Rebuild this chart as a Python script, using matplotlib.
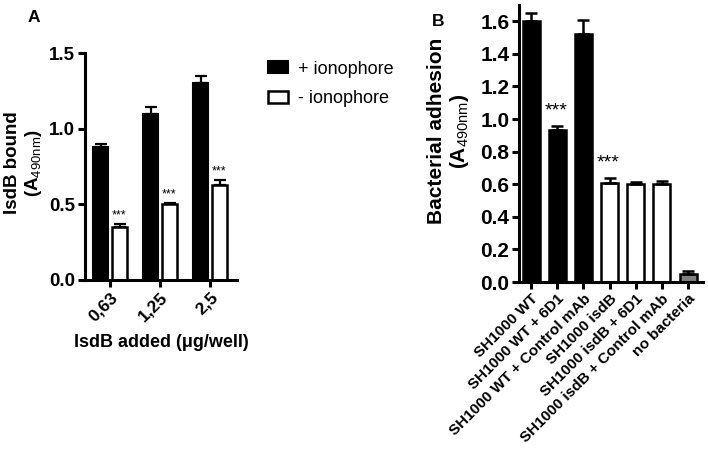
import numpy as np
import matplotlib.pyplot as plt

plt.rcParams["font.family"] = ["Liberation Sans", "DejaVu Sans"]
plt.rcParams["mathtext.fontset"] = "custom"
plt.rcParams["mathtext.rm"] = "Liberation Sans"
plt.rcParams["mathtext.bf"] = "Liberation Sans:bold"

# Panel A data
doses = ["0,63", "1,25", "2,5"]
plus_iono = [0.88, 1.10, 1.30]
plus_iono_err = [0.02, 0.04, 0.05]
minus_iono = [0.35, 0.50, 0.63]
minus_iono_err = [0.02, 0.01, 0.03]

# Panel B data
strains = ["SH1000 WT", "SH1000 WT + 6D1", "SH1000 WT + Control mAb",
           "SH1000 isdB", "SH1000 isdB + 6D1", "SH1000 isdB + Control mAb",
           "no bacteria"]
adhesion = [1.60, 0.93, 1.52, 0.61, 0.60, 0.60, 0.05]
adhesion_err = [0.05, 0.03, 0.09, 0.03, 0.015, 0.02, 0.015]
bar_colors = ["black", "black", "black", "white", "white", "white", "#808080"]
stars_b = ["", "***", "", "***", "", "", ""]

W, H = 708, 449
fig = plt.figure(figsize=(W / 100, H / 100), dpi=100)


def px_axes(left, top, right, bottom):
    return fig.add_axes([left / W, 1 - bottom / H, (right - left) / W, (bottom - top) / H])


def style(ax, lw=2.2):
    for side in ["top", "right"]:
        ax.spines[side].set_visible(False)
    for side in ["left", "bottom"]:
        ax.spines[side].set_linewidth(lw)
    ax.tick_params(width=lw, length=5, direction="out", pad=2)


# ---- Panel A ----
axA = px_axes(85, 53, 237, 280)
x = np.arange(len(doses))
off, w = 0.19, 0.3
err_kw = dict(capsize=4, capthick=1.6, elinewidth=1.6, ecolor="black")
bA1 = axA.bar(x - off, plus_iono, w, color="black", edgecolor="black", linewidth=1.5,
              yerr=[np.zeros(3), plus_iono_err], error_kw=err_kw, label="+ ionophore")
bA2 = axA.bar(x + off, minus_iono, w, color="white", edgecolor="black", linewidth=1.8,
              yerr=[np.zeros(3), minus_iono_err], error_kw=err_kw, label="- ionophore")
for xi, v, e in zip(x + off, minus_iono, minus_iono_err):
    axA.text(xi, v + e + 0.015, "***", ha="center", va="bottom", fontsize=9)
axA.set_xlim(-0.5, 2.54)
axA.set_ylim(0, 1.5)
axA.set_yticks([0, 0.5, 1.0, 1.5])
axA.set_yticklabels(["0.0", "0.5", "1.0", "1.5"], fontsize=13.5, fontweight="bold")
axA.set_xticks(x)
axA.set_xticklabels(doses, rotation=45, ha="right", rotation_mode="anchor",
                    fontsize=12.5, fontweight="bold")
axA.set_ylabel("IsdB bound\n(A$_{\\mathrm{490nm}}$)", fontsize=13.5, fontweight="bold",
               linespacing=1.1)
axA.yaxis.set_label_coords(-0.27, 0.515)
axA.set_xlabel("IsdB added (\u03bcg/well)", fontsize=13, fontweight="bold", labelpad=7)
style(axA)
axA.legend(handles=[bA1, bA2], loc="upper left", bbox_to_anchor=(255 / W, 1 - 48 / H),
           bbox_transform=fig.transFigure, frameon=False, fontsize=13,
           handlelength=1.15, handleheight=0.65, handletextpad=0.55,
           labelspacing=0.7, borderpad=0.2)
fig.text(28 / W, 1 - 22 / H, "A", fontsize=12.5, fontweight="bold")

# ---- Panel B ----
axB = px_axes(519, 5, 703, 282)
xb = np.arange(len(strains))
axB.bar(xb, adhesion, 0.65, color=bar_colors, edgecolor="black", linewidth=1.8,
        yerr=[np.zeros(len(xb)), adhesion_err],
        error_kw=dict(capsize=4, capthick=1.8, elinewidth=1.8, ecolor="black"))
for xi, v, e, s in zip(xb, adhesion, adhesion_err, stars_b):
    if s:
        axB.text(xi - 0.05, v + e + 0.04, s, ha="center", va="bottom", fontsize=14)
axB.set_xlim(-0.46, 6.57)
axB.set_ylim(0, 1.7)
yt = np.arange(0, 1.61, 0.2)
axB.set_yticks(yt)
axB.set_yticklabels([f"{v:.1f}" for v in yt], fontsize=15, fontweight="bold")
axB.set_xticks(xb)
axB.set_xticklabels(strains, rotation=45, ha="right", rotation_mode="anchor",
                    fontsize=11, fontweight="bold")
axB.set_ylabel("Bacterial adhesion\n(A$_{\\mathrm{490nm}}$)", fontsize=15,
               fontweight="bold", linespacing=1.1)
axB.yaxis.set_label_coords(-0.26, 0.545)
style(axB)
fig.text(432 / W, 1 - 26 / H, "B", fontsize=12.5, fontweight="bold")

fig.savefig("out.png", dpi=100)
